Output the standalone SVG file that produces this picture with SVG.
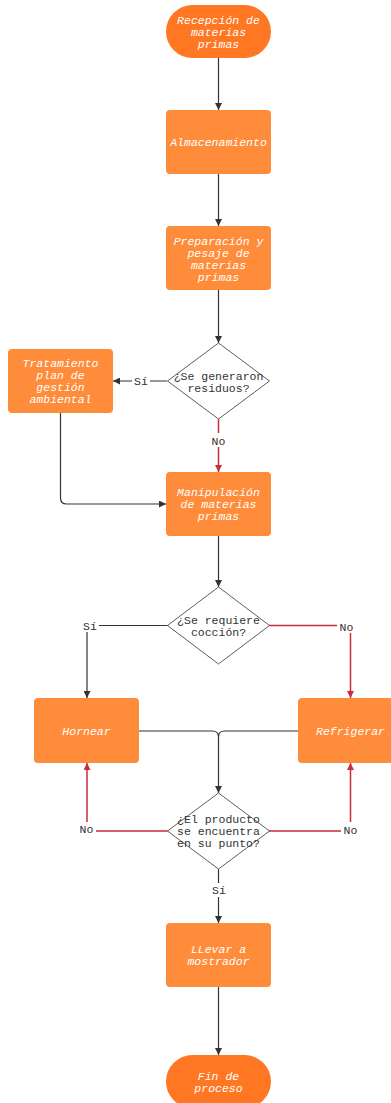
<svg xmlns="http://www.w3.org/2000/svg" width="391" height="1103" viewBox="0 0 391 1103">
<style>
.term{fill:#FF7623;}
.proc{fill:#FF8C3A;}
.dec{fill:#FFFFFF;stroke:#5E5E5E;stroke-width:1;stroke-linejoin:round;}
.nt{font-family:"Liberation Mono",monospace;font-size:11.5px;font-style:italic;fill:#FFFFFF;text-anchor:middle;}
.dt{font-family:"Liberation Mono",monospace;font-size:11.5px;fill:#333333;text-anchor:middle;}
.lb{font-family:"Liberation Mono",monospace;font-size:11.5px;fill:#333333;text-anchor:middle;}
.c{fill:none;stroke:#333333;stroke-width:1.2;}
.r{fill:none;stroke:#C92D39;stroke-width:1.5;}
.lbg{fill:#FFFFFF;}
</style>
<defs>
<marker id="ak" viewBox="0 0 10 10" refX="10" refY="5" markerWidth="7" markerHeight="7" markerUnits="userSpaceOnUse" orient="auto"><path d="M0,0 L10,5 L0,10 z" fill="#333333"/></marker>
<marker id="ar" viewBox="0 0 10 10" refX="10" refY="5" markerWidth="7" markerHeight="7" markerUnits="userSpaceOnUse" orient="auto"><path d="M0,0 L10,5 L0,10 z" fill="#C92D39"/></marker>
</defs>
<rect width="391" height="1103" fill="#FFFFFF"/>
<g id="connectors">
<path class="c" d="M218.5,58 V110" marker-end="url(#ak)"/>
<path class="c" d="M218.5,174 V226" marker-end="url(#ak)"/>
<path class="c" d="M218.5,290 V343" marker-end="url(#ak)"/>
<path class="c" d="M167,381 H113" marker-end="url(#ak)"/>
<path class="r" d="M218.5,419 V472" marker-end="url(#ar)"/>
<path class="c" d="M60.5,413 V498 Q60.5,504 66.5,504 H166" marker-end="url(#ak)"/>
<path class="c" d="M218.5,536 V587" marker-end="url(#ak)"/>
<path class="c" d="M168,625.5 H87 V698" marker-end="url(#ak)"/>
<path class="r" d="M269,625.5 H350.5 V698" marker-end="url(#ar)"/>
<path class="c" d="M139,731 H212.5 Q218.5,731 218.5,737 M298,731 H224.5 Q218.5,731 218.5,737 V793" marker-end="url(#ak)"/>
<path class="r" d="M168,831 H87 V763" marker-end="url(#ar)"/>
<path class="r" d="M269,831 H350.5 V763" marker-end="url(#ar)"/>
<path class="c" d="M218.5,869 V923" marker-end="url(#ak)"/>
<path class="c" d="M218.5,987 V1055" marker-end="url(#ak)"/>
<rect class="lbg" x="132" y="374" width="18" height="14"/>
<text class="lb" x="141" y="385">Sí</text>
<rect class="lbg" x="209" y="433" width="19" height="14"/>
<text class="lb" x="218.5" y="444.5">No</text>
<rect class="lbg" x="81" y="618" width="18" height="14"/>
<text class="lb" x="90" y="629.5">Sí</text>
<rect class="lbg" x="337" y="619" width="19" height="14"/>
<text class="lb" x="346.5" y="630.5">No</text>
<rect class="lbg" x="77" y="822" width="19" height="14"/>
<text class="lb" x="86.5" y="833">No</text>
<rect class="lbg" x="341" y="822" width="19" height="14"/>
<text class="lb" x="350.5" y="833.5">No</text>
<rect class="lbg" x="210" y="883" width="18" height="14"/>
<text class="lb" x="219" y="894">Sí</text>
</g>
<g id="n-recepcion">
<rect class="term" x="166" y="5" width="105" height="53" rx="26.5"/>
<text class="nt" x="218.5" y="24">Recepción de</text>
<text class="nt" x="218.5" y="36">materias</text>
<text class="nt" x="218.5" y="48">primas</text>
</g>
<g id="n-almacenamiento">
<rect class="proc" x="166" y="110" width="105" height="64" rx="4"/>
<text class="nt" x="218.5" y="146">Almacenamiento</text>
</g>
<g id="n-preparacion">
<rect class="proc" x="166" y="226" width="105" height="64" rx="4"/>
<text class="nt" x="218.5" y="244.5">Preparación y</text>
<text class="nt" x="218.5" y="256.5">pesaje de</text>
<text class="nt" x="218.5" y="268.5">materias</text>
<text class="nt" x="218.5" y="280.5">primas</text>
</g>
<g id="n-residuos">
<path class="dec" d="M218.5,343 L269.5,381 L218.5,419 L167.5,381 Z"/>
<text class="dt" x="218.5" y="380">¿Se generaron</text>
<text class="dt" x="218.5" y="392">residuos?</text>
</g>
<g id="n-tratamiento">
<rect class="proc" x="8" y="349" width="105" height="64" rx="4"/>
<text class="nt" x="60.5" y="367">Tratamiento</text>
<text class="nt" x="60.5" y="379">plan de</text>
<text class="nt" x="60.5" y="391">gestión</text>
<text class="nt" x="60.5" y="403">ambiental</text>
</g>
<g id="n-manipulacion">
<rect class="proc" x="166" y="472" width="105" height="64" rx="4"/>
<text class="nt" x="218.5" y="496">Manipulación</text>
<text class="nt" x="218.5" y="508">de materias</text>
<text class="nt" x="218.5" y="520">primas</text>
</g>
<g id="n-coccion">
<path class="dec" d="M218.5,587 L269.5,625.5 L218.5,664 L167.5,625.5 Z"/>
<text class="dt" x="218.5" y="624">¿Se requiere</text>
<text class="dt" x="218.5" y="636">cocción?</text>
</g>
<g id="n-hornear">
<rect class="proc" x="34" y="698" width="105" height="65" rx="4"/>
<text class="nt" x="86.5" y="735">Hornear</text>
</g>
<g id="n-refrigerar">
<rect class="proc" x="298" y="698" width="105" height="65" rx="4"/>
<text class="nt" x="350.5" y="735">Refrigerar</text>
</g>
<g id="n-punto">
<path class="dec" d="M218.5,793 L269.5,831 L218.5,869 L167.5,831 Z"/>
<text class="dt" x="218.5" y="823">¿El producto</text>
<text class="dt" x="218.5" y="835">se encuentra</text>
<text class="dt" x="218.5" y="847">en su punto?</text>
</g>
<g id="n-llevar">
<rect class="proc" x="166" y="923" width="105" height="64" rx="4"/>
<text class="nt" x="218.5" y="953">LLevar a</text>
<text class="nt" x="218.5" y="965">mostrador</text>
</g>
<g id="n-fin">
<rect class="term" x="166" y="1055" width="105" height="53" rx="26.5"/>
<text class="nt" x="218.5" y="1080">Fin de</text>
<text class="nt" x="218.5" y="1092">proceso</text>
</g>
</svg>
